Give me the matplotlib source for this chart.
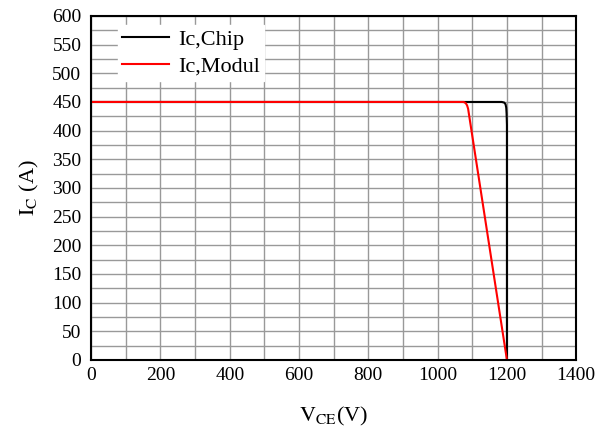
import numpy as np
import matplotlib
matplotlib.use('Agg')
import matplotlib.pyplot as plt

plt.rcParams['font.family'] = ['Liberation Serif', 'DejaVu Serif']
plt.rcParams['mathtext.fontset'] = 'stix'

# Ic,Chip curve
vce_chip = [0, 1185, 1192, 1196, 1198, 1199, 1200, 1200]
ic_chip = [450, 450, 449, 446, 440, 430, 410, 0]

# Ic,Modul curve
vce_modul = [0, 1075, 1081, 1085, 1088, 1090, 1200]
ic_modul = [450, 450, 448, 444, 438, 430, 0]

fig = plt.figure(figsize=(6.04, 4.32), dpi=100)
ax = fig.add_axes([0.151, 0.167, 0.803, 0.796])

ax.plot(vce_chip, ic_chip, color='black', lw=1.5, label='Ic,Chip')
ax.plot(vce_modul, ic_modul, color='red', lw=1.5, label='Ic,Modul')

ax.set_xlim(0, 1400)
ax.set_ylim(0, 600)
ax.set_xticks(np.arange(0, 1401, 200))
ax.set_xticks(np.arange(0, 1401, 100), minor=True)
ax.set_yticks(np.arange(0, 601, 50))
ax.set_yticks(np.arange(0, 601, 25), minor=True)
ax.grid(True, which='both', color='#999999', lw=1)
ax.set_axisbelow(True)
ax.tick_params(which='both', length=0, labelsize=14)
ax.tick_params(axis='y', pad=7)
ax.tick_params(axis='x', pad=5)
for s in ax.spines.values():
    s.set_linewidth(1.5)

ax.set_xlabel(r'$\mathrm{V_{CE}}$(V)', fontsize=16, labelpad=15)
ax.set_ylabel(r'$\mathrm{I_C}$ (A)', fontsize=16, labelpad=8)

leg = ax.legend(loc='upper left', bbox_to_anchor=(0.055, 0.975), fontsize=16,
                frameon=True, fancybox=False, edgecolor='white', framealpha=1,
                handlelength=2.1, handletextpad=0.4, borderaxespad=0,
                labelspacing=0.3, borderpad=0.2)

fig.savefig('out.png', dpi=100)
